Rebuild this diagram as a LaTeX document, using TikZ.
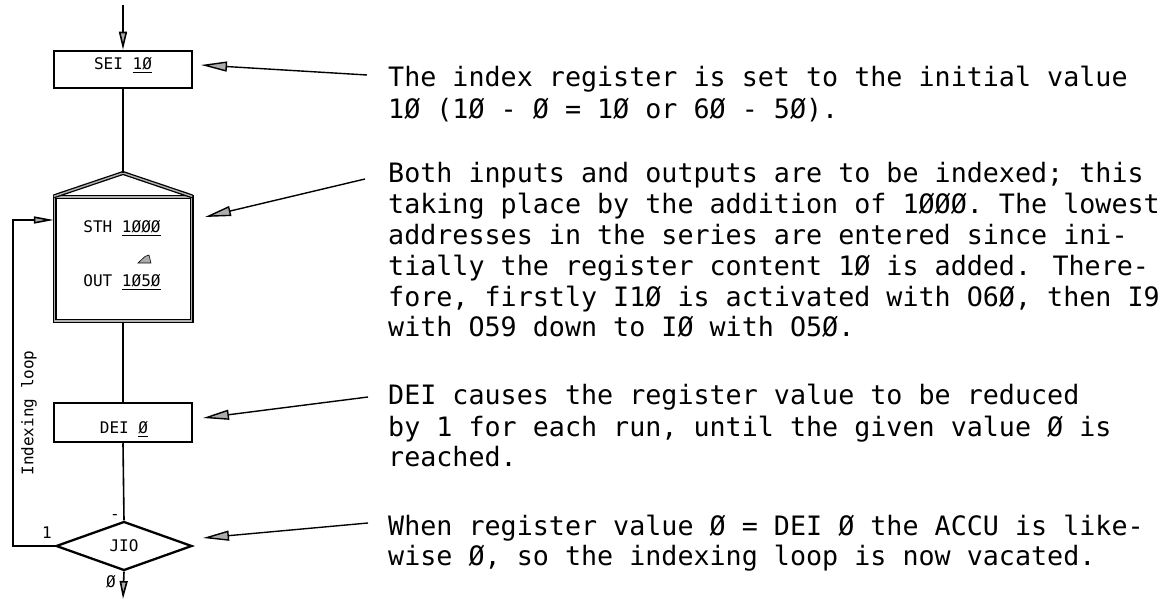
\documentclass[tikz,border=0pt]{standalone}
\usepackage{fontspec}
\newfontfamily\mono{DejaVu Sans Mono}
\usetikzlibrary{arrows.meta,shapes.geometric}
\begin{document}
\begin{tikzpicture}[x=1pt,y=-1pt,
  txt/.style={font=\mono\fontsize{26.7}{31}\selectfont, anchor=base west, inner sep=0},
  lbl/.style={font=\mono\fontsize{16}{19}\selectfont, inner sep=0},
  box/.style={draw, line width=2.5pt, rectangle, inner sep=0},
  dbl/.style={draw, line width=1.3pt, double=gray!60, double distance=1.4pt},
  flow/.style={line width=1.6pt},
  gtip/.style={-{Triangle[length=26pt,width=10pt,fill=gray!65]}},
  stip/.style={-{Triangle[length=18pt,width=8pt,fill=gray!65]}},
  ltip/.style={-{Triangle[length=20pt,width=7pt,fill=gray!65]}}
]
\useasboundingbox (0,0) rectangle (1173,609);

% flowchart
\coordinate (start) at (123,5);
\node[box, minimum width=138pt, minimum height=37pt] (sei) at (123,69.5) {};
\node[lbl, anchor=base] (seit) at (123,70) {SEI \underline{1Ø}};

\node[dbl, rectangle, minimum width=137pt, minimum height=124pt, inner sep=0] (lbox) at (123,259) {};
\coordinate (apex) at (123,173);
\draw[dbl, line join=miter] (lbox.north west) -- (apex) -- (lbox.north east);
\node[lbl, anchor=base] (sth) at (122,233) {STH \underline{1ØØØ}};
\fill[gray!65, draw=black, line width=0.6pt] (138,263) -- (151,263) -- (149,255) -- (145,256.5) -- cycle;
\node[lbl, anchor=base] (out) at (122,287) {OUT \underline{1Ø5Ø}};

\node[box, minimum width=138pt, minimum height=39pt] (dei) at (123,422.5) {};
\node[lbl, anchor=base] (deit) at (124,434) {DEI \underline{Ø}};

\node[draw, line width=2.3pt, diamond, aspect=2.78, minimum width=136pt, minimum height=49pt, inner sep=0] (jio) at (124,546) {};
\node[lbl, anchor=base] (jiot) at (124,551) {JIO};

\coordinate (endp) at (123,599);
\coordinate (lc) at (13,220);

\draw[flow, stip] (start) -- (sei.north);
\draw[flow] (sei.south) -- (apex);
\draw[flow] (lbox.south) -- (dei.north);
\draw[flow] (dei.south) -- (jio.north);
\draw[flow, stip] (jio.south) -- (endp);
\draw[flow, ltip] (jio.west) -| (lc) -- (lbox.west |- lc);

\node[lbl, anchor=base] (one) at (47,538) {1};
\node[lbl, anchor=base] (zero) at (111,587) {Ø};
\node[lbl] (minus) at (115,517) {-};
\node[lbl, rotate=90] (idx) at (29,413) {Indexing loop};

% explanation arrows
\coordinate (a1s) at (367,75);  \coordinate (a1e) at (201,65);
\coordinate (a2s) at (365,179); \coordinate (a2e) at (205,217);
\coordinate (a3s) at (368,397); \coordinate (a3e) at (203,418);
\coordinate (a4s) at (368,523); \coordinate (a4e) at (203,538);
\draw[line width=1.4pt, gtip] (a1s) -- (a1e);
\draw[line width=1.4pt, gtip] (a2s) -- (a2e);
\draw[line width=1.4pt, gtip] (a3s) -- (a3e);
\draw[line width=1.4pt, gtip] (a4s) -- (a4e);

% text
\node[txt] (p1a) at (388,87)  {The index register is set to the initial value};
\node[txt] (p1b) at (388,119) {1Ø (1Ø - Ø = 1Ø or 6Ø - 5Ø).};

\node[txt] (p2a) at (388,183) {Both inputs and outputs are to be indexed; this};
\node[txt] (p2b) at (388,214) {taking place by the addition of 1ØØØ. The lowest};
\node[txt] (p2c) at (388,245) {addresses in the series are entered since ini-};
\node[txt] (p2d) at (388,276) {tially the register content 1Ø is added. There-};
\node[txt] (p2e) at (388,307) {fore, firstly I1Ø is activated with O6Ø, then I9};
\node[txt] (p2f) at (388,337) {with O59 down to IØ with O5Ø.};

\node[txt] (p3a) at (388,405) {DEI causes the register value to be reduced};
\node[txt] (p3b) at (388,436) {by 1 for each run, until the given value Ø is};
\node[txt] (p3c) at (388,467) {reached.};

\node[txt] (p4a) at (388,535) {When register value Ø = DEI Ø the ACCU is like-};
\node[txt] (p4b) at (388,565) {wise Ø, so the indexing loop is now vacated.};
\end{tikzpicture}
\end{document}
